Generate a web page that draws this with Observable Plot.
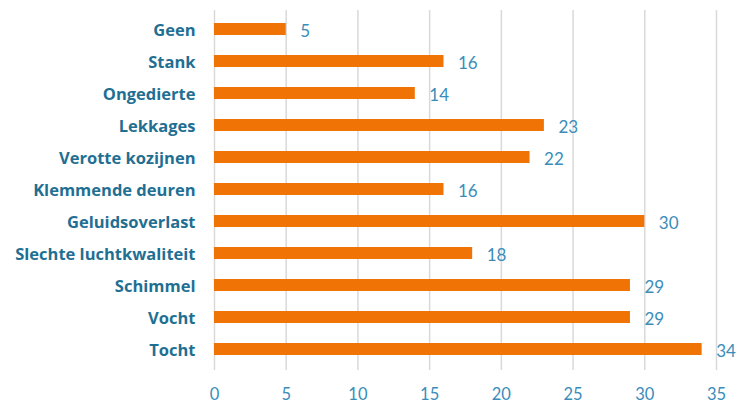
<!DOCTYPE html>
<html>
<head>
<meta charset="utf-8">
<script src="https://cdn.jsdelivr.net/npm/d3@7"></script>
<script src="https://cdn.jsdelivr.net/npm/@observablehq/plot@0.6"></script>
<style>
  html, body { margin: 0; padding: 0; background: #fff; }
  #chart svg { display: block; }
</style>
</head>
<body>
<div id="chart"></div>
<script>
const categories = ["Geen", "Stank", "Ongedierte", "Lekkages", "Verotte kozijnen", "Klemmende deuren", "Geluidsoverlast", "Slechte luchtkwaliteit", "Schimmel", "Vocht", "Tocht"];
const values = [5, 16, 14, 23, 22, 16, 30, 18, 29, 29, 34];
const xTicks = [0, 5, 10, 15, 20, 25, 30, 35];

const data = categories.map((c, i) => ({category: c, value: values[i]}));

const labelColor = "#1f6f93";
const tickColor = "#3a8dba";
const barColor = "#f07306";

const chart = Plot.plot({
  width: 736,
  height: 406,
  marginLeft: 214,
  marginRight: 20,
  marginTop: 10,
  marginBottom: 36,
  style: {fontFamily: "Lato, 'Open Sans', sans-serif", background: "#fff"},
  x: {domain: [0, 35], ticks: xTicks},
  y: {domain: categories, paddingInner: 0.64, paddingOuter: 0.35},
  marks: [
    Plot.gridX(xTicks, {stroke: "#d9d9d9", strokeOpacity: 1, strokeWidth: 1.5}),
    Plot.barX(data, {x: "value", y: "category", fill: barColor, dy: -1}),
    Plot.text(data, {x: "value", y: "category", text: d => String(d.value), dx: 14, dy: 1, textAnchor: "start", fill: tickColor, fontSize: 17}),
    Plot.axisX(xTicks, {tickSize: 0, tickPadding: 18, fontSize: 16.5, fill: tickColor, label: null}),
    Plot.axisY({tickSize: 0, tickPadding: 19, fontSize: 16.5, fontWeight: "bold", fontFamily: "'Open Sans', sans-serif", fill: labelColor, label: null})
  ]
});
document.getElementById("chart").appendChild(chart);
</script>
</body>
</html>
